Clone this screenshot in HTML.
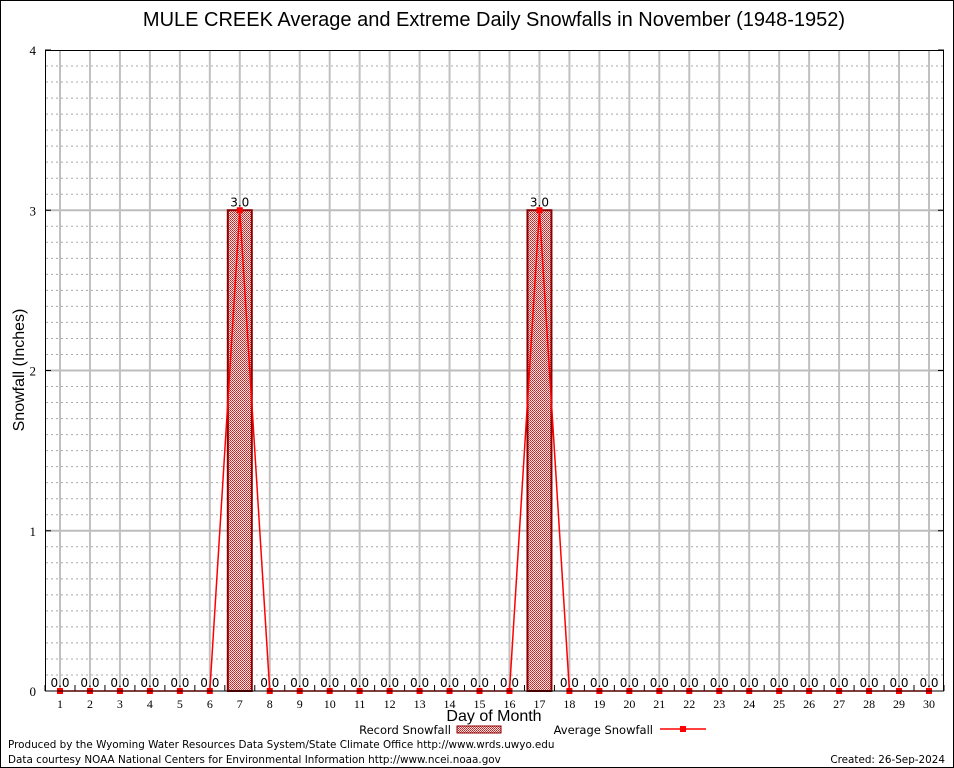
<!DOCTYPE html>
<html><head><meta charset="utf-8"><style>
body{margin:0;background:#fff}
svg{display:block}
</style></head><body>
<svg id="chart" width="954" height="768" xmlns="http://www.w3.org/2000/svg">
<defs>
<pattern id="hatch" x="0" y="0" width="2" height="2" patternUnits="userSpaceOnUse">
<rect width="2" height="2" fill="#fbe4e4"/>
<rect width="1" height="1" fill="#c02020"/><rect x="1" y="1" width="1" height="1" fill="#d04040"/>
</pattern>
</defs>
<rect x="0.5" y="0.5" width="953" height="767" fill="#fff" stroke="#000"/>
<text x="494" y="26" font-family="Liberation Sans, sans-serif" font-size="20" text-anchor="middle">MULE CREEK Average and Extreme Daily Snowfalls in November (1948-1952)</text>
<g id="grid"></g>
<g id="marks"></g>
<rect x="45.5" y="50.5" width="898" height="640.5" fill="none" stroke="#000"/>
<text transform="translate(24,370) rotate(-90)" font-family="Liberation Sans, sans-serif" font-size="16" text-anchor="middle">Snowfall (Inches)</text>
<text x="494" y="721" font-family="Liberation Sans, sans-serif" font-size="16" text-anchor="middle">Day of Month</text>
<g font-family="DejaVu Sans, sans-serif" font-size="11.5">
<text x="451" y="734" text-anchor="end">Record Snowfall</text>
<rect x="457" y="726" width="44" height="7" fill="url(#hatch)" stroke="#8b0000"/>
<text x="653" y="734" text-anchor="end">Average Snowfall</text>
<line x1="660" y1="729" x2="706" y2="729" stroke="red" stroke-width="1.5"/>
<rect x="680" y="726" width="6" height="6" fill="red"/>
</g>
<text x="8" y="748" font-family="DejaVu Sans, sans-serif" font-size="10.4">Produced by the Wyoming Water Resources Data System/State Climate Office http://www.wrds.uwyo.edu</text>
<text x="8" y="763" font-family="DejaVu Sans, sans-serif" font-size="10.4">Data courtesy NOAA National Centers for Environmental Information http://www.ncei.noaa.gov</text>
<text x="945" y="763" text-anchor="end" font-family="DejaVu Sans, sans-serif" font-size="10.4">Created:  26-Sep-2024</text>
</svg>
<script>
const days = [1,2,3,4,5,6,7,8,9,10,11,12,13,14,15,16,17,18,19,20,21,22,23,24,25,26,27,28,29,30];
const recordSnow = [0,0,0,0,0,0,3,0,0,0,0,0,0,0,0,0,3,0,0,0,0,0,0,0,0,0,0,0,0,0];
const avgSnow = [0,0,0,0,0,0,3,0,0,0,0,0,0,0,0,0,3,0,0,0,0,0,0,0,0,0,0,0,0,0];
const yTicks = [0,1,2,3,4];
const NS='http://www.w3.org/2000/svg';
const X0=60, DX=(929-60)/29, Y0=691, YT=50, YMAX=4;
function xs(d){return X0+(d-1)*DX;}
function ys(v){return Y0-(v/YMAX)*(Y0-YT);}
function mk(tag,attrs,parent,text){const e=document.createElementNS(NS,tag);for(const k in attrs)e.setAttribute(k,attrs[k]);if(text!==undefined)e.textContent=text;parent.appendChild(e);return e;}
const grid=document.getElementById('grid'), marks=document.getElementById('marks');
for(let i=1;i<40;i++){ if(i%10===0) continue;
 const y=ys(i/10);
 const l=mk('line',{x1:46,x2:943,y1:y,y2:y,stroke:'#a8a8a8','stroke-dasharray':'2,3','stroke-width':1},grid);
 
 
}
yTicks.forEach(t=>{
 const y=ys(t);
 if(t>0&&t<YMAX){const l=mk('line',{x1:46,x2:943,y1:y,y2:y,stroke:'#bdbdbd','stroke-width':2},grid);
 
 }
 const tk=mk('line',{x1:45,x2:51,y1:y,y2:y,stroke:'#000'},grid);
 
 
 const tk2=mk('line',{x1:938,x2:944,y1:y,y2:y,stroke:'#000'},grid);
 
 
 const tx=mk('text',{x:36,y:y+5,'text-anchor':'end','font-family':'Liberation Serif, serif','font-size':13},grid,String(t));
 
 
});
days.forEach(d=>{
 const x=xs(d);
 const l=mk('line',{x1:x,x2:x,y1:51,y2:690,stroke:'#c0c0c0','stroke-width':2},grid);
 
 
 const tx=mk('text',{x:x,y:708,'text-anchor':'middle','font-family':'Liberation Serif, serif','font-size':12},grid,String(d));
 
 
});
for(let i=0;i<=days.length;i++){const x=xs(0.5+i);
 const tk=mk('line',{x1:x,x2:x,y1:685,y2:691,stroke:'#000'},grid);
 
 
}
days.forEach((d,i)=>{
 const v=recordSnow[i];
 if(v>0){const b=mk('rect',{x:xs(d)-12,y:ys(v),width:24,height:Y0-ys(v),fill:'url(#hatch)',stroke:'#8b0000','stroke-width':2},marks);
  
  }
 const t=mk('text',{x:xs(d),y:ys(v)-4,'text-anchor':'middle','font-family':'DejaVu Sans, sans-serif','font-size':12},marks,v.toFixed(1));
 
 
});
const pts=days.map((d,i)=>xs(d)+','+ys(avgSnow[i])).join(' ');
const pl=mk('polyline',{points:pts,fill:'none',stroke:'red','stroke-width':1.5},marks);


days.forEach((d,i)=>{
 const m=mk('rect',{x:xs(d)-3,y:ys(avgSnow[i])-3,width:6,height:6,fill:'red'},marks);
 
 
});
</script>
</body></html>
